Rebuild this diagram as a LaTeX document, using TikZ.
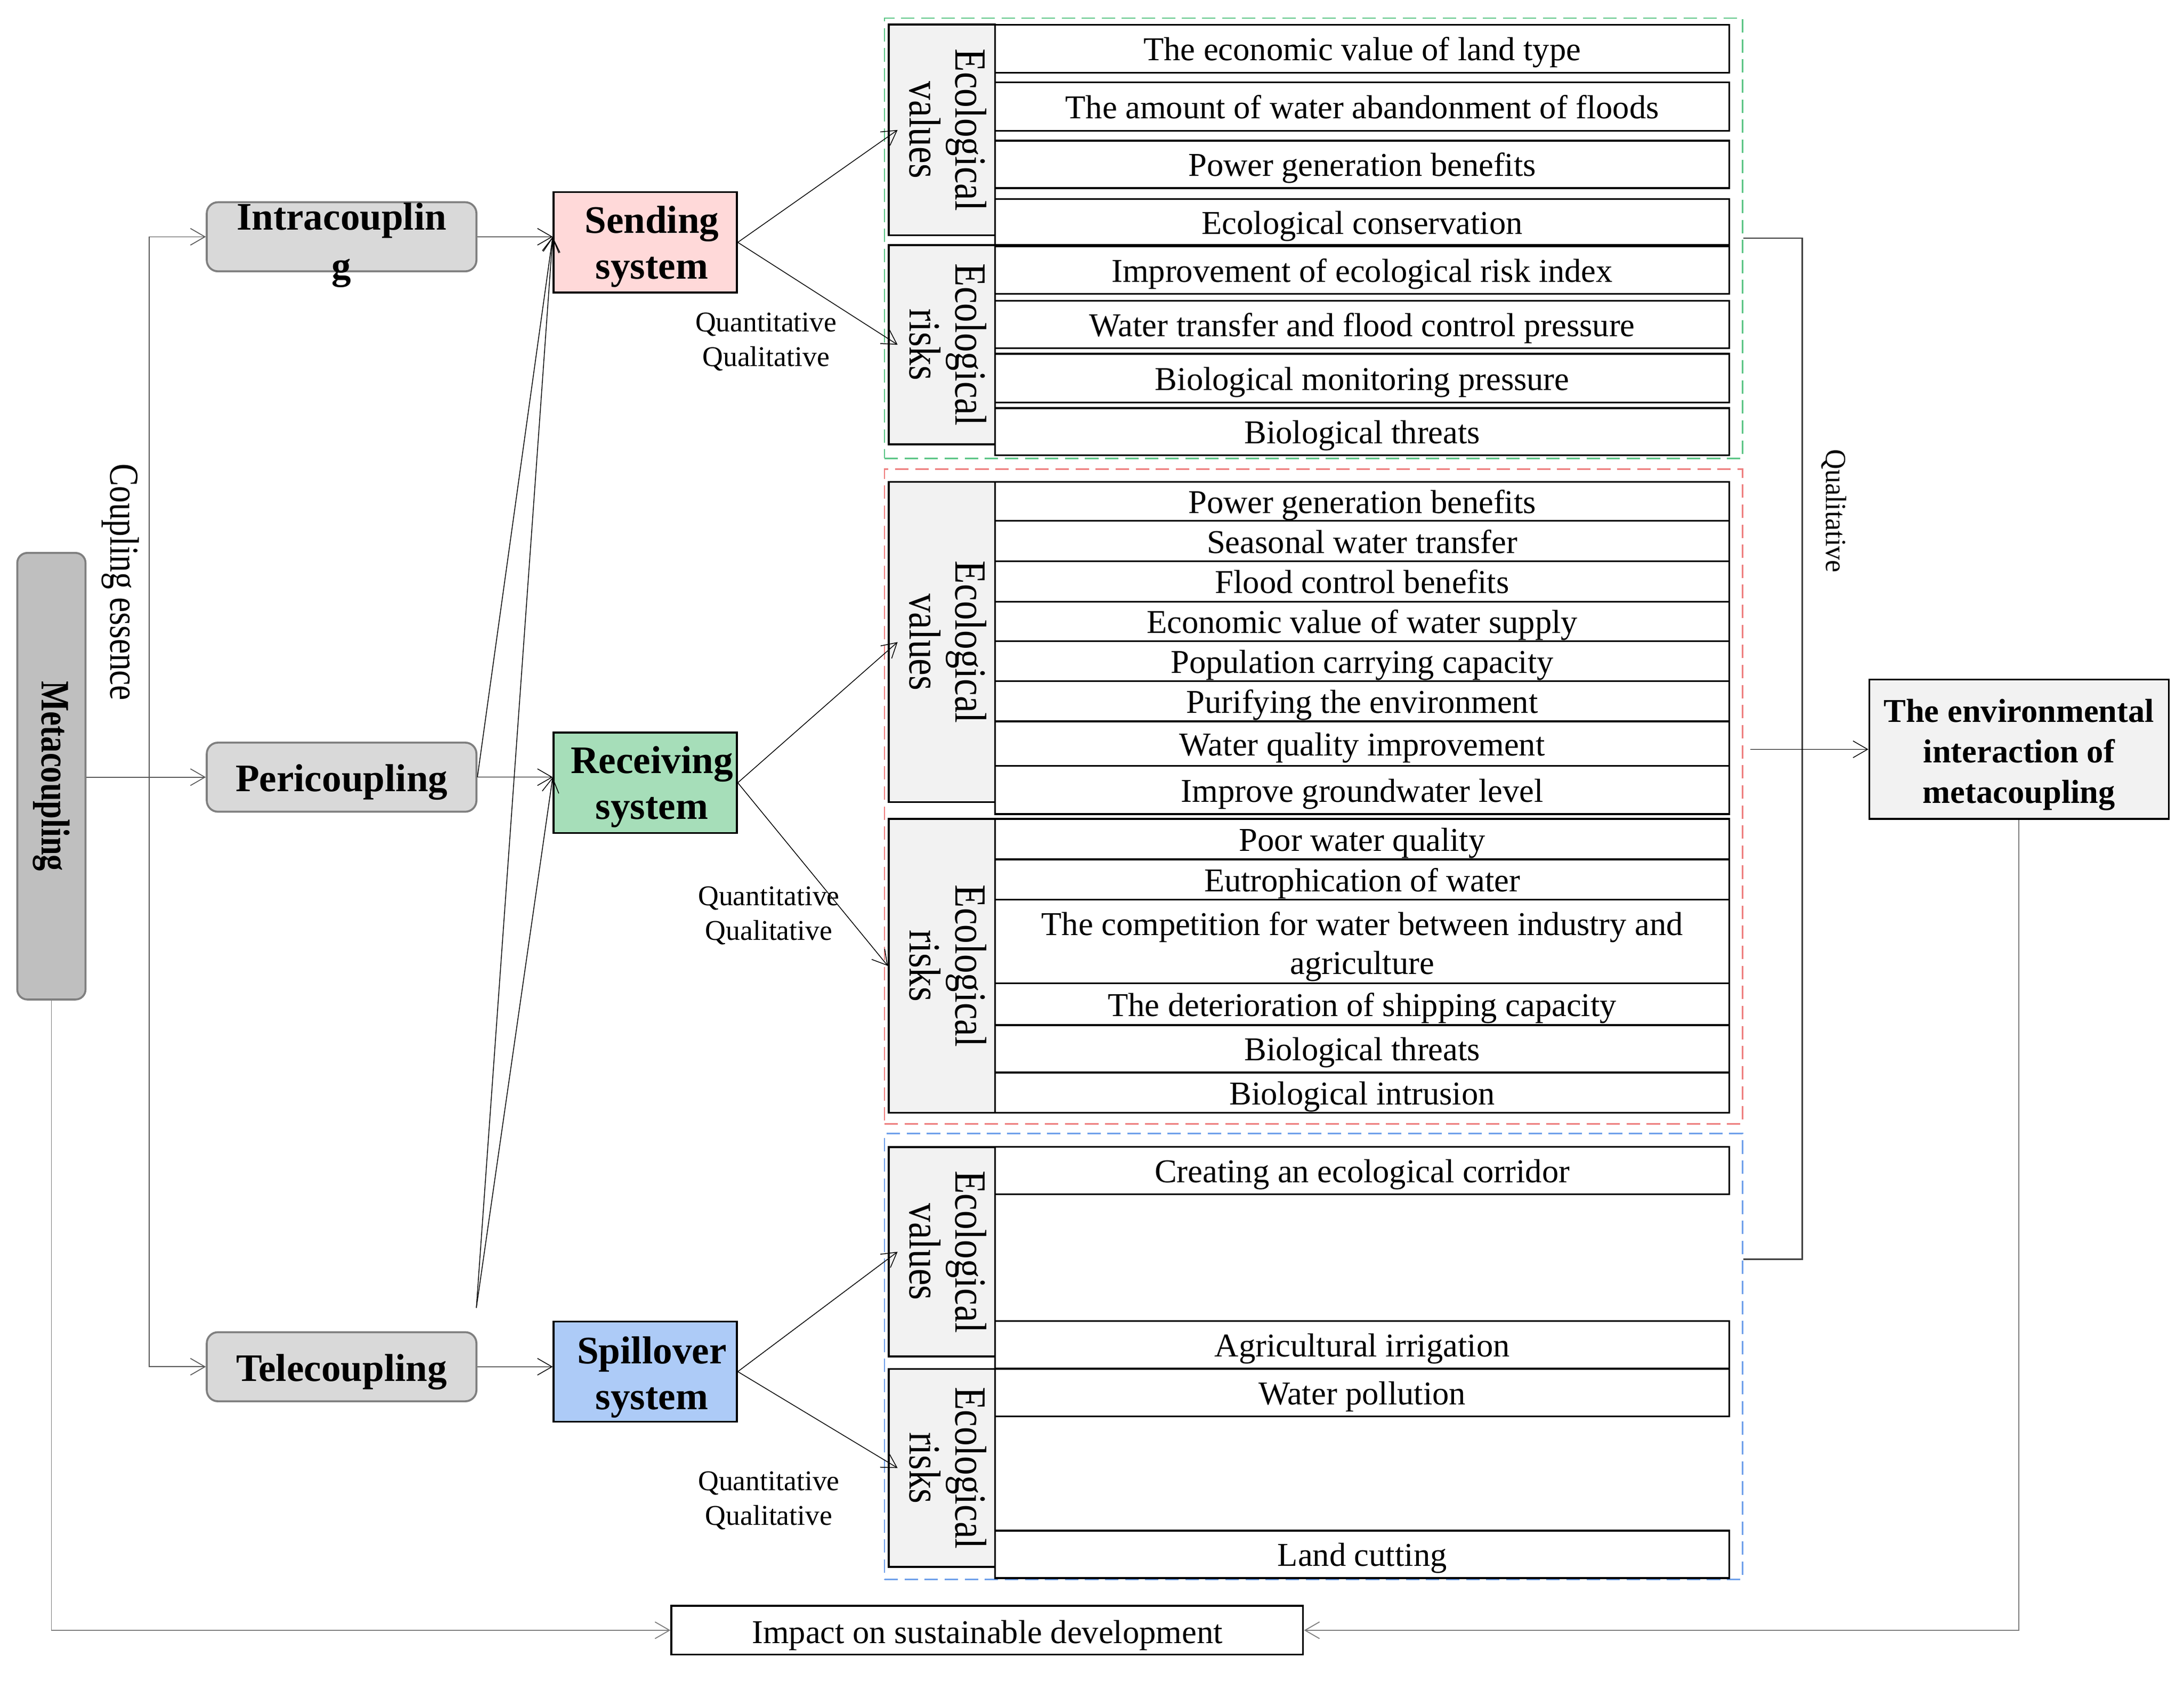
\documentclass[tikz,border=0pt]{standalone}
\usepackage{fontspec}
\setmainfont{Liberation Serif}
\usepackage{tikz}
\usetikzlibrary{arrows.meta}
\definecolor{metafill}{HTML}{BFBFBF}
\definecolor{couplefill}{HTML}{D9D9D9}
\definecolor{edgegray}{HTML}{7F7F7F}
\definecolor{sendfill}{HTML}{FFD9D9}
\definecolor{recvfill}{HTML}{A6DEB9}
\definecolor{spillfill}{HTML}{ADCBF7}
\definecolor{labfill}{HTML}{F2F2F2}
\definecolor{grpgreen}{HTML}{5CC586}
\definecolor{grpred}{HTML}{EE7F7F}
\definecolor{grpblue}{HTML}{6FA0EA}
\definecolor{linegray}{HTML}{595959}
\definecolor{brackgray}{HTML}{404040}
\newcommand{\vlabel}[2][0.85]{\rotatebox{-90}{\scalebox{#1}[1]{\begin{tabular}{@{}c@{}}#2\end{tabular}}}}

\begin{document}
\begin{tikzpicture}[x=0.25mm,y=-0.25mm,>={Straight Barb[length=2.6mm,width=3mm]},
        couplebox/.style={draw=edgegray,fill=couplefill,line width=1pt,rounded corners=2mm,minimum width=48.4mm,minimum height=12.4mm,inner sep=0pt,text height=14.7pt,text depth=0pt,font=\fontsize{19.9}{24.9}\selectfont\bfseries},
        sysbox/.style={draw,line width=0.9pt,minimum width=32.9mm,minimum height=18mm,inner sep=0pt},
        boldtxt/.style={align=center,inner sep=0pt,font=\fontsize{19.9}{23.5}\selectfont\bfseries},
        grpbox/.style={line width=0.8pt,dash pattern=on 2.4mm off 1.2mm,minimum width=154mm,inner sep=0pt},
        labbox/.style={draw,fill=labfill,line width=0.9pt,minimum width=19.1mm,inner sep=0pt,font=\fontsize{22.8}{23.5}\selectfont},
        itembox/.style={draw,fill=white,line width=0.9pt,minimum width=131.75mm,inner sep=0pt,text height=12.2pt,text depth=0pt,font=\fontsize{17}{19.9}\selectfont},
        quant/.style={align=center,inner sep=0pt,font=\fontsize{14.6}{17.8}\selectfont},
        gline/.style={draw=linegray,line width=0.45pt},
        kline/.style={draw=black,line width=0.4pt}]
                \useasboundingbox (0,0) rectangle (1568,1207.6);
                \node[draw=edgegray,fill=metafill,line width=1pt,rounded corners=1.8mm,minimum width=12.25mm,minimum height=80.15mm,inner sep=0pt,font=\fontsize{20.6}{24}\selectfont\bfseries] (meta) at (36.9,557.3) {\vlabel[0.8]{Metacoupling}};
                \node[font=\fontsize{21}{24}\selectfont,inner sep=0pt] (essence) at (86,418) {\vlabel[0.82]{Coupling essence}};
                \node[couplebox] (intra) at (245.25,170) {};
                \node[boldtxt,font=\fontsize{19.9}{24.9}\selectfont\bfseries] (intratext) at (245.25,176) {Intracouplin\\g};
                \node[couplebox] (peri) at (245.25,558) {Pericoupling};
                \node[couplebox] (tele) at (245.25,981.3) {Telecoupling};
                \node[sysbox,fill=sendfill] (send) at (463.25,174) {};
                \node[boldtxt] (sendtext) at (468,177) {Sending\\system};
                \node[sysbox,fill=recvfill] (recv) at (463.25,562) {};
                \node[boldtxt] (recvtext) at (468,565) {Receiving\\system};
                \node[sysbox,fill=spillfill] (spill) at (463.25,984.8) {};
                \node[boldtxt] (spilltext) at (468,988.8) {Spillover\\system};
                \node[grpbox,draw=grpgreen,minimum height=79mm] (sgroup) at (943,171) {};
                \node[grpbox,draw=grpred,minimum height=117.5mm] (rgroup) at (943,572) {};
                \node[grpbox,draw=grpblue,minimum height=80mm] (pgroup) at (943,974) {};
                \node[labbox,minimum height=37.85mm] (sev) at (676.25,93.3) {\vlabel{Ecological\\values}};
                \node[labbox,minimum height=35.75mm] (ser) at (676.25,247.5) {\vlabel{Ecological\\risks}};
                \node[itembox,minimum height=8.6mm] (s1) at (978,35) {The economic value of land type};
                \node[itembox,minimum height=8.75mm] (s2) at (978,76.5) {The amount of water abandonment of floods};
                \node[itembox,minimum height=8.5mm] (s3) at (978,118) {Power generation benefits};
                \node[itembox,minimum height=8.25mm] (s4) at (978,159.5) {Ecological conservation};
                \node[itembox,minimum height=8.5mm] (s5) at (978,194) {Improvement of ecological risk index};
                \node[itembox,minimum height=8.5mm] (s6) at (978,233) {Water transfer and flood control pressure};
                \node[itembox,minimum height=8.75mm] (s7) at (978,271.5) {Biological monitoring pressure};
                \node[itembox,minimum height=8.5mm] (s8) at (978,310) {Biological threats};
                \node[labbox,minimum height=57.5mm] (rev) at (676.25,461) {\vlabel{Ecological\\values}};
                \node[labbox,minimum height=52.75mm] (rer) at (676.25,693.5) {\vlabel{Ecological\\risks}};
                \node[itembox,minimum height=7mm] (r1) at (978,360) {Power generation benefits};
                \node[itembox,minimum height=7.25mm] (r2) at (978,388.5) {Seasonal water transfer};
                \node[itembox,minimum height=7.25mm] (r3) at (978,417.5) {Flood control benefits};
                \node[itembox,minimum height=7.125mm] (r4) at (978,446.25) {Economic value of water supply};
                \node[itembox,minimum height=7.125mm] (r5) at (978,474.75) {Population carrying capacity};
                \node[itembox,minimum height=7.25mm] (r6) at (978,503.5) {Purifying the environment};
                \node[itembox,minimum height=8mm] (r7) at (978,534) {Water quality improvement};
                \node[itembox,minimum height=8.625mm] (r8) at (978,567.25) {Improve groundwater level};
                \node[itembox,minimum height=7.25mm] (r9) at (978,602.5) {Poor water quality};
                \node[itembox,minimum height=7.25mm] (r10) at (978,631.5) {Eutrophication of water};
                \node[itembox,minimum height=15mm] (r11) at (978,676) {};
                \node[align=center,inner sep=0pt,font=\fontsize{17}{19.9}\selectfont] (r11text) at (978,679.5) {The competition for water between industry and\\agriculture};
                \node[itembox,minimum height=7.5mm] (r12) at (978,721) {The deterioration of shipping capacity};
                \node[itembox,minimum height=8.5mm] (r13) at (978,753) {Biological threats};
                \node[itembox,minimum height=7.25mm] (r14) at (978,784.5) {Biological intrusion};
                \node[labbox,minimum height=37.6mm] (pev) at (676.25,898.75) {\vlabel{Ecological\\values}};
                \node[labbox,minimum height=35.5mm] (per) at (676.25,1054) {\vlabel{Ecological\\risks}};
                \node[itembox,minimum height=8.5mm] (p1) at (978,840.5) {Creating an ecological corridor};
                \node[itembox,minimum height=8.5mm] (p2) at (978,965.5) {Agricultural irrigation};
                \node[itembox,minimum height=8.5mm] (p3) at (978,1000) {Water pollution};
                \node[itembox,minimum height=8.5mm] (p4) at (978,1116) {Land cutting};
                \node[quant] (qsend) at (550,245.5) {Quantitative\\Qualitative};
                \node[quant] (qrecv) at (552,657.5) {Quantitative\\Qualitative};
                \node[quant] (qspill) at (552,1077.5) {Quantitative\\Qualitative};
                \node[draw,fill=labfill,line width=0.9pt,minimum width=53.75mm,minimum height=25mm,inner sep=0pt] (env) at (1449.5,538) {};
                \node[align=center,inner sep=0pt,font=\fontsize{17}{20.6}\selectfont\bfseries] (envtext) at (1449.5,542) {The environmental\\interaction of\\metacoupling};
                \node[draw,line width=0.9pt,minimum width=113.4mm,minimum height=8.75mm,inner sep=0pt,text height=13.6pt,text depth=0pt,font=\fontsize{17}{19.9}\selectfont] (impact) at (708.8,1170.5) {Impact on sustainable development};
                \node[font=\fontsize{14.9}{17}\selectfont,inner sep=0pt] (qualright) at (1316,367) {\vlabel[0.95]{Qualitative}};
                \coordinate (split) at (107,558);
                \coordinate (telefree) at (342,939);
                \coordinate (brk) at (1294,904);
                \draw[gline] (meta.east |- split) -- (split);
                \draw[gline,->] (split) |- (intra.west);
                \draw[gline,->] (split) -- (peri.west);
                \draw[gline,->] (split) |- (tele.west);
                \draw[kline,->] (intra.east) -- (intra.east -| send.west);
                \draw[kline,->] (peri.east) -- (peri.east -| recv.west);
                \draw[kline,->] (tele.east) -- (tele.east -| spill.west);
                \draw[kline,->] (peri.east) -- (intra.east -| send.west);
                \draw[kline,->] (telefree) -- (intra.east -| send.west);
                \draw[kline,->] (telefree) -- (peri.east -| recv.west);
                \draw[kline,->] (send.east) -- ([xshift=1.75mm]sev.west);
                \draw[kline,->] (send.east) -- ([xshift=1.75mm]ser.west);
                \draw[kline,->] (recv.east) -- ([xshift=1.75mm]rev.west);
                \draw[kline,->] (recv.east) -- (rer.west);
                \draw[kline,->] (spill.east) -- ([xshift=1.75mm]pev.west);
                \draw[kline,->] (spill.east) -- ([xshift=1.75mm]per.west);
                \draw[draw=brackgray,line width=0.75pt] (sgroup.east) -| (brk) -- (brk -| pgroup.east);
                \draw[kline,->] ([xshift=1.25mm]rgroup.east |- env.west) -- (env.west);
                \draw[draw=edgegray,line width=0.5pt,->] (env.south) |- (impact.east);
                \draw[draw=edgegray,line width=0.5pt,->] (meta.south) |- (impact.west);
            \end{tikzpicture}
\end{document}
